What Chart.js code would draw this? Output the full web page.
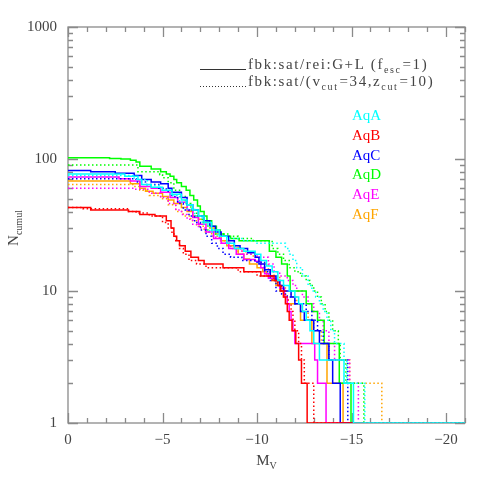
<!DOCTYPE html>
<html>
<head>
<meta charset="utf-8">
<script src="https://cdn.jsdelivr.net/npm/chart.js@4.4.1/dist/chart.umd.min.js"></script>
<style>
html, body { margin: 0; padding: 0; background: #fff; }
#wrap { width: 491px; height: 491px; }
</style>
</head>
<body>
<div id="wrap"><canvas id="c"></canvas></div>
<script>
const haloNames = ['AqA', 'AqB', 'AqC', 'AqD', 'AqE', 'AqF'];
const haloColors = ['#00ffff', '#ff0000', '#0000ff', '#00ff00', '#ff00ff', '#ffa500'];

// [M_V, N_cumul] step points
const aqA_solid = [[0,77],[-3.0,74],[-3.7,70],[-3.9,64],[-4.4,61],[-5.0,58],[-5.5,54],[-6.0,49],[-6.3,45],[-6.6,41],[-6.9,37],[-7.2,33],[-7.6,29],[-8.0,26],[-8.4,23],[-8.8,21],[-9.3,20],[-9.9,19],[-10.2,17],[-10.5,15.5],[-10.8,14],[-11.1,12],[-11.4,11],[-11.7,10],[-12.0,9],[-12.2,8],[-12.4,7],[-12.6,6],[-12.8,5],[-13.0,4],[-13.3,3],[-14.6,2],[-15.1,1],[-21,1]];
const aqA_dotted = [[0,75],[-3.5,70],[-4.2,63],[-4.9,58],[-5.4,53],[-5.9,47],[-6.3,42],[-6.7,37],[-7.1,32],[-7.5,28],[-7.9,26],[-8.4,25],[-9.3,24],[-10.0,23],[-11.5,21],[-11.7,19],[-11.9,17],[-12.1,15],[-12.4,13],[-12.7,11],[-12.9,10],[-13.1,9],[-13.3,8],[-13.5,7],[-13.7,6],[-13.9,5],[-14.1,4],[-14.6,3],[-14.75,2],[-15.7,1],[-21,1]];
const aqB_solid = [[0,43],[-1.2,41],[-3.2,40],[-3.8,38],[-4.6,37],[-5.2,34],[-5.45,30],[-5.6,26],[-5.75,24],[-5.9,22],[-6.2,20],[-6.5,18],[-6.9,17],[-7.2,16],[-8.2,15],[-9.3,14],[-10.2,13],[-10.9,12],[-11.1,11],[-11.25,10],[-11.4,9],[-11.5,8],[-11.6,7],[-11.7,6],[-11.85,5],[-12.05,4],[-12.2,3],[-12.35,2],[-12.65,1],[-21,1]];
const aqB_dotted = [[0,43],[-0.8,42],[-3.2,40],[-3.6,39],[-4.3,37],[-5.0,33],[-5.3,30],[-5.5,27],[-5.7,24],[-5.9,21],[-6.1,19],[-6.4,17],[-6.8,16],[-7.3,15],[-9.0,14],[-10.0,13],[-10.8,12],[-11.1,11],[-11.3,10],[-11.5,9],[-11.65,8],[-11.8,7],[-11.9,6],[-12.0,5],[-12.2,4],[-12.35,3],[-12.5,2],[-13.0,1],[-21,1]];
const aqC_solid = [[0,82],[-1.2,80],[-2.5,78],[-3.5,75],[-3.9,70],[-4.4,67],[-4.9,65],[-5.3,60],[-5.5,56],[-6.0,51],[-6.3,45],[-6.6,41],[-6.9,37],[-7.2,34],[-7.5,31],[-7.8,28],[-8.1,26],[-8.5,24],[-8.8,22],[-9.1,21],[-9.5,19.5],[-9.9,18],[-10.1,16],[-10.4,14.5],[-10.7,13],[-11.0,12],[-11.2,11],[-11.4,10],[-11.8,9],[-12.0,8],[-12.3,7],[-12.5,6],[-13.0,5],[-13.3,4],[-13.8,3],[-14.0,2],[-14.4,1],[-21,1]];
const aqC_dotted = [[0,71],[-3.6,67],[-4.1,64],[-4.8,60],[-5.2,57],[-5.5,52],[-5.8,46],[-6.1,41],[-6.4,37],[-6.7,33],[-7.0,29],[-7.3,26],[-7.6,23],[-7.9,21],[-8.2,19],[-8.6,18],[-9.2,17],[-10.0,16.5],[-10.4,14],[-10.7,12],[-11.0,10],[-11.3,9.5],[-11.6,9],[-12.0,8],[-12.6,7],[-12.9,6],[-13.2,5],[-13.5,4],[-13.8,3],[-14.8,1],[-21,1]];
const aqD_solid = [[0,102],[-2.2,101],[-2.8,100],[-3.3,98],[-3.6,95],[-3.8,88],[-4.4,84],[-4.9,80],[-5.2,77],[-5.4,74],[-5.6,70],[-5.75,66],[-6.0,62],[-6.25,58],[-6.45,53],[-6.65,49],[-6.85,44],[-7.0,40],[-7.2,37],[-7.35,34],[-7.6,31],[-7.85,29],[-8.05,27],[-8.25,26],[-8.6,25],[-9.05,24],[-10.65,20],[-11.0,18],[-11.3,16],[-11.6,13],[-11.75,10],[-12.6,8],[-12.9,7],[-13.2,6],[-13.55,4],[-14.35,2],[-14.97,1],[-21,1]];
const aqD_dotted = [[0,90],[-3.7,80],[-4.85,76],[-5.0,72],[-5.3,66],[-5.6,58],[-5.9,52],[-6.2,46],[-6.5,41],[-6.8,37],[-7.1,33],[-7.4,29],[-7.8,27],[-8.5,26],[-9.0,25],[-9.8,24],[-10.8,21],[-11.1,19],[-11.4,17],[-11.7,15],[-12.0,14],[-12.3,13],[-12.6,12],[-12.8,11],[-13.0,10],[-13.2,9],[-13.4,8],[-13.6,7],[-13.8,6],[-14.0,5],[-14.3,4],[-14.4,3],[-14.7,2],[-15.65,1],[-21,1]];
const aqE_solid = [[0,73],[-2.7,71],[-3.3,68],[-3.8,62],[-4.4,60],[-4.9,56],[-5.4,51],[-5.8,47],[-6.3,41],[-6.6,36],[-6.9,32],[-7.3,28],[-7.7,25],[-8.1,23],[-8.5,21],[-8.9,19],[-9.3,17.3],[-9.9,16.8],[-10.2,15],[-10.4,13.5],[-10.6,12.5],[-11.0,12],[-11.2,10.5],[-11.45,9],[-11.6,8],[-11.7,7],[-11.8,6],[-11.9,5],[-12.0,4],[-13.05,3],[-13.2,2],[-13.65,1],[-21,1]];
const aqE_dotted = [[0,60],[-3.5,59],[-4.3,55],[-4.9,51],[-5.3,46],[-5.7,41],[-6.0,38],[-6.3,35],[-6.6,32],[-6.9,30],[-7.3,28],[-7.7,25.5],[-8.1,23],[-8.6,21],[-9.2,19],[-10.0,18],[-10.6,16],[-10.9,14],[-11.2,13],[-11.6,12],[-11.9,11],[-12.1,10],[-12.4,9],[-12.7,8],[-13.0,7],[-13.3,6],[-13.5,5],[-13.8,4],[-14.1,3],[-14.9,2],[-15.36,1],[-21,1]];
const aqF_solid = [[0,68],[-3.3,65],[-3.8,60],[-4.1,57],[-4.5,55],[-5.0,52],[-5.3,49],[-5.6,46],[-6.0,43],[-6.3,40],[-6.6,37],[-6.9,35],[-7.2,33],[-7.5,30],[-7.8,27],[-8.1,24],[-8.4,22],[-8.8,21],[-9.0,19],[-9.3,17.5],[-9.6,16],[-10.0,15],[-10.3,14],[-10.5,13],[-10.8,12],[-11.0,11],[-11.2,10],[-11.4,9],[-11.6,8],[-12.3,6],[-12.9,4],[-13.7,2],[-14.55,1],[-21,1]];
const aqF_dotted = [[0,64],[-3.5,62],[-3.8,58],[-4.3,53],[-4.9,50],[-5.3,45],[-5.7,40],[-6.1,37],[-6.5,34],[-6.8,31],[-7.2,28],[-7.6,26],[-8.0,24],[-8.5,22],[-9.0,20],[-9.4,19],[-9.8,18],[-10.2,16],[-10.6,14],[-10.9,13],[-11.2,11],[-11.5,10],[-11.8,9],[-12.1,8],[-12.4,7],[-12.7,6],[-13.0,5],[-13.4,4],[-13.8,3],[-14.9,2],[-16.6,1],[-21,1]];

const solidCurves = [aqA_solid, aqB_solid, aqC_solid, aqD_solid, aqE_solid, aqF_solid];
const dottedCurves = [aqA_dotted, aqB_dotted, aqC_dotted, aqD_dotted, aqE_dotted, aqF_dotted];

const xTickValues = [0, -5, -10, -15, -20];
const xTickLabels = ['0', '\u22125', '\u221210', '\u221215', '\u221220'];
const yTickValues = [1, 10, 100, 1000];
const yTickLabels = ['1', '10', '100', '1000'];

const legendSolid = [['fbk:sat/rei:G+L (f', 0], ['esc', 1], ['=1)', 0]];
const legendDotted = [['fbk:sat/(v', 0], ['cut', 1], ['=34,z', 0], ['cut', 1], ['=10)', 0]];

const SERIF = '"Liberation Serif", "DejaVu Serif", serif';
const FRAME = '#8a8a8a';
const TEXT = '#444';

function toXY(pts) {
    return pts.map(p => ({x: p[0], y: p[1]}));
}

const datasets = [];
haloNames.forEach((name, i) => {
    datasets.push({
        label: name + ' G+L',
        data: toXY(solidCurves[i]),
        borderColor: haloColors[i],
        borderWidth: 1.5,
    });
    datasets.push({
        label: name + ' vcut',
        data: toXY(dottedCurves[i]),
        borderColor: haloColors[i],
        borderWidth: 1.5,
        borderDash: [1.5, 2.5],
    });
});

function drawRich(ctx, x, y, parts, size, spacing) {
    ctx.textBaseline = 'alphabetic';
    ctx.textAlign = 'left';
    ctx.letterSpacing = (spacing || 0) + 'px';
    parts.forEach(p => {
        const sub = p[1] === 1;
        ctx.font = (sub ? Math.round(size * 0.66) : size) + 'px ' + SERIF;
        ctx.fillText(p[0], x, y + (sub ? size * 0.27 : 0));
        x += ctx.measureText(p[0]).width + (sub ? 1 : 0);
    });
    ctx.letterSpacing = '0px';
}

const framePlugin = {
    id: 'frame',
    beforeDatasetsDraw(chart) {
        const {ctx, chartArea: a, scales} = chart;
        ctx.save();
        ctx.strokeStyle = FRAME;
        ctx.lineWidth = 1.3;
        ctx.beginPath();
        for (let v = 0; v >= -21; v--) {
            const px = Math.round(scales.x.getPixelForValue(v)) + 0.5;
            const len = v % 5 === 0 ? 10 : 5;
            ctx.moveTo(px, a.bottom); ctx.lineTo(px, a.bottom - len);
            ctx.moveTo(px, a.top); ctx.lineTo(px, a.top + len);
        }
        for (let d = 1; d <= 1000; d *= 10) {
            for (let k = 1; k <= 9; k++) {
                const v = k * d;
                if (v > 1000) break;
                const py = Math.round(scales.y.getPixelForValue(v)) + 0.5;
                const len = k === 1 ? 10 : 5;
                ctx.moveTo(a.left, py); ctx.lineTo(a.left + len, py);
                ctx.moveTo(a.right, py); ctx.lineTo(a.right - len, py);
            }
        }
        ctx.stroke();
        ctx.strokeRect(a.left, a.top, a.right - a.left, a.bottom - a.top);
        ctx.restore();
    },
    afterDraw(chart) {
        const {ctx, chartArea: a} = chart;
        ctx.save();
        ctx.fillStyle = TEXT;
        // model legend
        ctx.strokeStyle = '#333';
        ctx.lineWidth = 1;
        ctx.beginPath();
        ctx.moveTo(200, 69.5); ctx.lineTo(246, 69.5);
        ctx.stroke();
        ctx.setLineDash([1, 2]);
        ctx.beginPath();
        ctx.moveTo(200, 86.5); ctx.lineTo(246, 86.5);
        ctx.stroke();
        ctx.setLineDash([]);
        drawRich(ctx, 248, 69, legendSolid, 15, 1.6);
        drawRich(ctx, 248, 86, legendDotted, 15, 1.6);
        // halo labels
        haloNames.forEach((n, i) => {
            ctx.fillStyle = haloColors[i];
            ctx.font = '15px ' + SERIF;
            ctx.fillText(n, 352, 120 + i * 19.8);
        });
        // axis titles
        ctx.fillStyle = TEXT;
        ctx.font = '15px ' + SERIF;
        const mw = ctx.measureText('M').width;
        ctx.font = '10px ' + SERIF;
        const vw = ctx.measureText('V').width;
        const cx = (a.left + a.right) / 2;
        drawRich(ctx, cx - (mw + vw) / 2, 465, [['M', 0], ['V', 1]], 15);
        ctx.translate(18, 0);
        ctx.rotate(-Math.PI / 2);
        ctx.font = '15px ' + SERIF;
        const nw = ctx.measureText('N').width;
        ctx.font = '10px ' + SERIF;
        const cw = ctx.measureText('cumul').width;
        drawRich(ctx, -228 - (nw + cw) / 2, 0, [['N', 0], ['cumul', 1]], 15);
        ctx.restore();
    }
};

new Chart(document.getElementById('c'), {
    type: 'scatter',
    data: {datasets: datasets},
    plugins: [framePlugin],
    options: {
        responsive: true,
        maintainAspectRatio: false,
        animation: false,
        showLine: true,
        layout: {padding: {left: 0, top: 27, right: 26, bottom: 0}},
        elements: {
            point: {radius: 0, hoverRadius: 0},
            line: {stepped: 'before', tension: 0, fill: false},
        },
        plugins: {
            legend: {display: false},
            tooltip: {enabled: false},
        },
        scales: {
            x: {
                type: 'linear',
                min: -21,
                max: 0,
                reverse: true,
                grid: {display: false},
                border: {display: false},
                afterBuildTicks: s => { s.ticks = xTickValues.map(v => ({value: v})); },
                afterFit: s => { s.height = 68; },
                ticks: {
                    autoSkip: false,
                    maxRotation: 0,
                    padding: 0,
                    color: TEXT,
                    font: {family: SERIF, size: 15},
                    callback: v => xTickLabels[xTickValues.indexOf(v)],
                },
            },
            y: {
                type: 'logarithmic',
                min: 1,
                max: 1000,
                grid: {display: false, tickLength: 0},
                border: {display: false},
                afterBuildTicks: s => { s.ticks = yTickValues.map(v => ({value: v})); },
                afterFit: s => { s.width = 68; },
                ticks: {
                    autoSkip: false,
                    padding: 11,
                    color: TEXT,
                    font: {family: SERIF, size: 15},
                    callback: v => yTickLabels[yTickValues.indexOf(v)],
                },
            },
        },
    },
});
</script>
</body>
</html>
